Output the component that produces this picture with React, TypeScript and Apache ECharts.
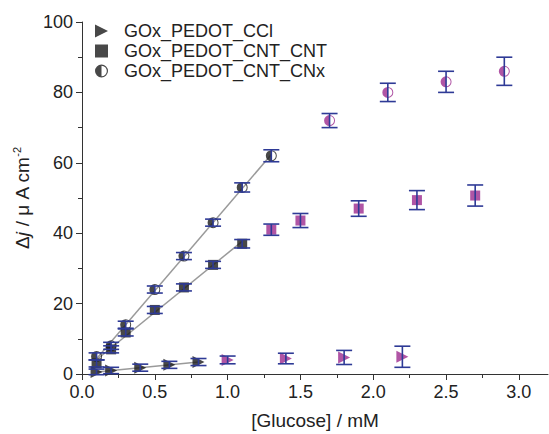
import React, { useEffect, useRef } from "react";
import * as echarts from "echarts";

// ---- data ----
const cclName = "GOx_PEDOT_CCl";
const cclX = [0.1, 0.2, 0.4, 0.6, 0.8, 1.0, 1.4, 1.8, 2.2];
const cclY = [0.6, 1.0, 1.8, 2.6, 3.4, 4.0, 4.4, 4.7, 4.9];
const cclErr = [0.8, 0.9, 1.0, 1.0, 1.0, 1.1, 1.5, 2.0, 3.0];
const cclLinear = 5;

const cntName = "GOx_PEDOT_CNT_CNT";
const cntX = [0.1, 0.2, 0.3, 0.5, 0.7, 0.9, 1.1, 1.3, 1.5, 1.9, 2.3, 2.7];
const cntY = [3.0, 7.0, 11.8, 18.2, 24.6, 31.0, 37.0, 41.0, 43.6, 47.0, 49.4, 50.7];
const cntErr = [1.0, 1.0, 1.0, 1.0, 1.0, 1.0, 1.2, 1.6, 2.0, 2.2, 2.7, 3.0];
const cntLinear = 7;

const cnxName = "GOx_PEDOT_CNT_CNx";
const cnxX = [0.1, 0.2, 0.3, 0.5, 0.7, 0.9, 1.1, 1.3, 1.7, 2.1, 2.5, 2.9];
const cnxY = [5.0, 8.0, 14.0, 24.0, 33.5, 43.0, 53.0, 62.0, 72.0, 80.0, 83.0, 86.0];
const cnxErr = [1.0, 1.0, 1.0, 1.0, 1.0, 1.0, 1.3, 1.7, 2.0, 2.6, 3.0, 4.0];
const cnxLinear = 8;

const xMajorTicks = [0, 0.5, 1.0, 1.5, 2.0, 2.5, 3.0];
const xMinorTicks = [0.25, 0.75, 1.25, 1.75, 2.25, 2.75];

// ---- styles ----
const FONT = "'Liberation Sans', Arial, sans-serif";
const BLACK = "#1a1a1a";
const MAGENTA = "#9c2a8e";
const BLUE = "#2e3a96";
const GRAY = "#9a9a9a";
const AXIS = "#333333";

const TRI = "path://M0,0 L10,5 L0,10 Z";
const HALF =
  "path://M50,0 A50,50 0 0,0 50,100 Z M50,0 A50,50 0 0,1 50,100 L50,91 A41,41 0 0,0 50,9 Z";

function fitLine(xs: number[], ys: number[], n: number) {
  const x = xs.slice(0, n);
  const y = ys.slice(0, n);
  const mx = x.reduce((a, b) => a + b, 0) / n;
  const my = y.reduce((a, b) => a + b, 0) / n;
  let sxy = 0;
  let sxx = 0;
  for (let i = 0; i < n; i++) {
    sxy += (x[i] - mx) * (y[i] - my);
    sxx += (x[i] - mx) * (x[i] - mx);
  }
  const b = sxy / sxx;
  const a = my - b * mx;
  return [
    [x[0], a + b * x[0]],
    [x[n - 1], a + b * x[n - 1]],
  ];
}

function points(xs: number[], ys: number[], n: number) {
  return xs.map((x, i) => ({
    value: [x, ys[i]],
    itemStyle: { color: i < n ? BLACK : MAGENTA },
  }));
}

function errData(xs: number[], ys: number[], es: number[]) {
  return xs.map((x, i) => [x, ys[i], es[i]]);
}

const errorRender = (params: any, api: any) => {
  const x = api.value(0);
  const y = api.value(1);
  const e = api.value(2);
  const top = api.coord([x, y + e]);
  const bot = api.coord([x, y - e]);
  const hw = 8;
  const st = { stroke: BLUE, lineWidth: 1.6 };
  return {
    type: "group",
    children: [
      { type: "line", shape: { x1: top[0], y1: top[1], x2: bot[0], y2: bot[1] }, style: st },
      { type: "line", shape: { x1: top[0] - hw, y1: top[1], x2: top[0] + hw, y2: top[1] }, style: st },
      { type: "line", shape: { x1: bot[0] - hw, y1: bot[1], x2: bot[0] + hw, y2: bot[1] }, style: st },
    ],
  };
};

export default function App() {
  const ref = useRef<HTMLDivElement>(null);

  useEffect(() => {
    document.body.style.margin = "0";
    const chart = echarts.init(ref.current!, undefined, { renderer: "svg" });

    const fitSeries = (xs: number[], ys: number[], n: number) => ({
      type: "line",
      data: fitLine(xs, ys, n),
      symbol: "none",
      silent: true,
      z: 1,
      lineStyle: { color: GRAY, width: 1.5 },
    });

    const errSeries = (xs: number[], ys: number[], es: number[]) => ({
      type: "custom",
      data: errData(xs, ys, es),
      renderItem: errorRender,
      silent: true,
      z: 4,
      encode: { x: 0, y: [1] },
    });

    chart.setOption({
      animation: false,
      backgroundColor: "#ffffff",
      textStyle: { fontFamily: FONT },
      grid: { left: 82, right: 1, top: 22, bottom: 60, outerBoundsMode: "none" },
      legend: {
        orient: "vertical",
        left: 90,
        top: 17,
        itemWidth: 13,
        itemHeight: 13,
        itemGap: 2,
        data: [
          { name: cclName, icon: TRI },
          { name: cntName, icon: "rect" },
          { name: cnxName, icon: HALF },
        ],
        textStyle: { fontSize: 18, color: "#222", fontFamily: FONT, padding: [0, 0, 0, 11] },
      },
      xAxis: [
        {
          type: "value",
          min: 0,
          max: 3.2,
          interval: 0.5,
          name: "[Glucose] / mM",
          nameLocation: "middle",
          nameGap: 37,
          nameTextStyle: { fontSize: 19, color: "#222", fontFamily: FONT },
          axisLine: { show: true, onZero: false, lineStyle: { color: AXIS, width: 1 } },
          axisTick: { show: true, inside: false, length: 6, customValues: xMajorTicks, lineStyle: { color: AXIS } },
          axisLabel: {
            customValues: xMajorTicks,
            formatter: (v: number) => v.toFixed(1),
            fontSize: 18,
            color: "#222",
            fontFamily: FONT,
            margin: 9,
          },
          splitLine: { show: false },
        },
        {
          type: "value",
          min: 0,
          max: 3.2,
          position: "bottom",
          axisLine: { show: false },
          axisTick: { show: true, inside: false, length: 4, customValues: xMinorTicks, lineStyle: { color: AXIS } },
          axisLabel: { show: false },
          splitLine: { show: false },
        },
      ],
      yAxis: {
        type: "value",
        min: 0,
        max: 100,
        interval: 20,
        name: "{d|Δ}{j|j}{d| / μ A cm}{s|-2}",
        nameLocation: "middle",
        nameRotate: 90,
        nameGap: 38,
        nameTextStyle: {
          color: "#222",
          fontFamily: FONT,
          rich: {
            d: { fontSize: 19, color: "#222", fontFamily: FONT },
            j: { fontSize: 19, color: "#222", fontFamily: FONT, fontStyle: "italic" },
            s: { fontSize: 11, color: "#222", fontFamily: FONT, verticalAlign: "top", lineHeight: 22 },
          },
        },
        axisLine: { show: true, onZero: false, lineStyle: { color: AXIS, width: 1 } },
        axisTick: { show: true, inside: false, length: 6, lineStyle: { color: AXIS } },
        minorTick: { show: true, splitNumber: 2, length: 4, lineStyle: { color: AXIS } },
        axisLabel: { fontSize: 18, color: "#222", fontFamily: FONT, margin: 9 },
        splitLine: { show: false },
        minorSplitLine: { show: false },
      },
      series: [
        fitSeries(cclX, cclY, cclLinear),
        fitSeries(cntX, cntY, cntLinear),
        fitSeries(cnxX, cnxY, cnxLinear),
        {
          name: cclName,
          type: "scatter",
          symbol: TRI,
          symbolSize: 12,
          symbolKeepAspect: true,
          itemStyle: { color: BLACK },
          z: 3,
          data: points(cclX, cclY, cclLinear),
        },
        {
          name: cntName,
          type: "scatter",
          symbol: "rect",
          symbolSize: 10,
          itemStyle: { color: BLACK },
          z: 3,
          data: points(cntX, cntY, cntLinear),
        },
        {
          name: cnxName,
          type: "scatter",
          symbol: HALF,
          symbolSize: 11,
          symbolKeepAspect: true,
          itemStyle: { color: BLACK },
          z: 3,
          data: points(cnxX, cnxY, cnxLinear),
        },
        errSeries(cclX, cclY, cclErr),
        errSeries(cntX, cntY, cntErr),
        errSeries(cnxX, cnxY, cnxErr),
      ],
    });

    return () => chart.dispose();
  }, []);

  return (
    <div
      ref={ref}
      style={{ position: "fixed", left: 0, top: 0, width: 549, height: 434, background: "#fff" }}
    />
  );
}
